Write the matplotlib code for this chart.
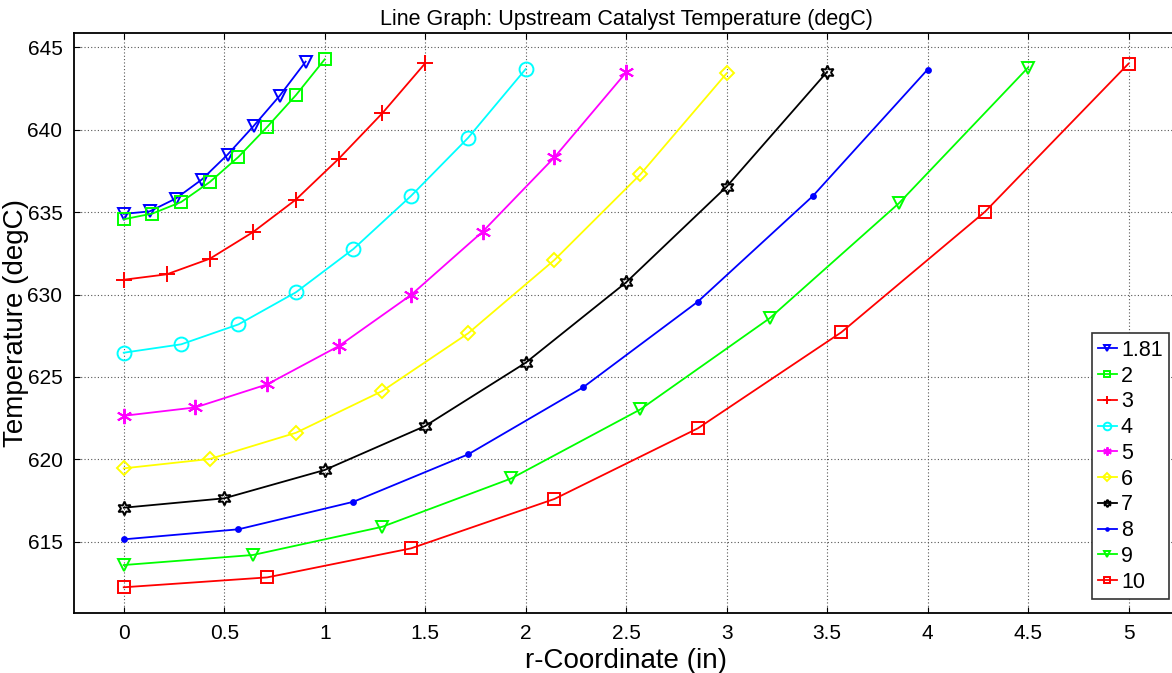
import matplotlib
matplotlib.use("Agg")
import matplotlib.pyplot as plt

plt.rcParams['font.family'] = ['Liberation Sans', 'DejaVu Sans']

# Series labels (parameter value of each sweep)
labels = ["1.81", "2", "3", "4", "5", "6", "7", "8", "9", "10"]

# r-coordinate samples (in) for each series
r_181 = [0, 0.129, 0.259, 0.388, 0.517, 0.646, 0.776, 0.905]
r_2 = [0, 0.143, 0.286, 0.429, 0.571, 0.714, 0.857, 1.0]
r_3 = [0, 0.214, 0.429, 0.643, 0.857, 1.071, 1.286, 1.5]
r_4 = [0, 0.286, 0.571, 0.857, 1.143, 1.429, 1.714, 2.0]
r_5 = [0, 0.357, 0.714, 1.071, 1.429, 1.786, 2.143, 2.5]
r_6 = [0, 0.429, 0.857, 1.286, 1.714, 2.143, 2.571, 3.0]
r_7 = [0, 0.5, 1.0, 1.5, 2.0, 2.5, 3.0, 3.5]
r_8 = [0, 0.571, 1.143, 1.714, 2.286, 2.857, 3.429, 4.0]
r_9 = [0, 0.643, 1.286, 1.929, 2.571, 3.214, 3.857, 4.5]
r_10 = [0, 0.714, 1.429, 2.143, 2.857, 3.571, 4.286, 5.0]

# Upstream catalyst temperature (degC)
t_181 = [634.90, 635.05, 635.83, 636.98, 638.50, 640.23, 642.07, 644.14]
t_2 = [634.57, 634.92, 635.62, 636.84, 638.36, 640.18, 642.11, 644.28]
t_3 = [630.90, 631.23, 632.18, 633.79, 635.77, 638.26, 641.00, 644.04]
t_4 = [626.47, 626.98, 628.19, 630.14, 632.77, 635.98, 639.52, 643.69]
t_5 = [622.64, 623.15, 624.55, 626.88, 629.97, 633.82, 638.33, 643.49]
t_6 = [619.45, 620.02, 621.61, 624.14, 627.65, 632.10, 637.30, 643.43]
t_7 = [617.06, 617.63, 619.35, 622.02, 625.86, 630.74, 636.55, 643.52]
t_8 = [615.14, 615.75, 617.42, 620.30, 624.37, 629.57, 635.98, 643.66]
t_9 = [613.58, 614.19, 615.90, 618.84, 623.03, 628.56, 635.54, 643.78]
t_10 = [612.23, 612.83, 614.59, 617.59, 621.88, 627.71, 635.03, 644.02]

x_ticks = [0, 0.5, 1, 1.5, 2, 2.5, 3, 3.5, 4, 4.5, 5]
x_tick_labels = ["0", "0.5", "1", "1.5", "2", "2.5", "3", "3.5", "4", "4.5", "5"]
y_ticks = [615, 620, 625, 630, 635, 640, 645]

r_series = [r_181, r_2, r_3, r_4, r_5, r_6, r_7, r_8, r_9, r_10]
t_series = [t_181, t_2, t_3, t_4, t_5, t_6, t_7, t_8, t_9, t_10]

colors = ["#0000ff", "#00ff00", "#ff0000", "#00ffff", "#ff00ff",
          "#ffff00", "#000000", "#0000ff", "#00ff00", "#ff0000"]
markers = ["v", "s", "+", "o", (6, 2, 0), "D", (6, 1, 0), ".", "v", "s"]
msizes = [8, 9, 11, 10, 11, 7, 10, 7, 8, 9]

fig = plt.figure(figsize=(11.72, 6.73), dpi=100)
ax = fig.add_axes([73.5 / 1172, 59.7 / 673, 1105.25 / 1172, 580.3 / 673])

for r, t, c, m, ms, lab in zip(r_series, t_series, colors, markers, msizes, labels):
    filled = m == "."
    ax.plot(r, t, color=c, lw=1.3, marker=m, markersize=ms,
            markerfacecolor=c if filled else "none", markeredgecolor=c,
            markeredgewidth=1.4, label=lab)

ax.set_xlim(-0.25, 5.25)
ax.set_ylim(610.65, 645.88)
ax.set_xticks(x_ticks)
ax.set_xticklabels(x_tick_labels)
ax.set_yticks(y_ticks)

ax.grid(True, linestyle=(0, (1, 2)), color="#555555", linewidth=0.8)
ax.tick_params(direction="in", length=4, width=0.8, labelsize=15,
               top=True, right=True, pad=8)
for s in ax.spines.values():
    s.set_linewidth(1.3)
    s.set_color("black")

ax.set_title("Line Graph: Upstream Catalyst Temperature (degC)", fontsize=15.5, pad=6)
ax.set_xlabel("r-Coordinate (in)", fontsize=20, labelpad=3)
ax.set_ylabel("Temperature (degC)", fontsize=20)
ax.yaxis.set_label_coords(-0.0405, 0.5)

leg = ax.legend(loc="lower right", bbox_to_anchor=(0.9912, 0.0246), fontsize=15.5,
                markerscale=0.55, handlelength=0.85, handletextpad=0.2,
                labelspacing=0.22, borderpad=0.3, borderaxespad=0,
                fancybox=False, framealpha=1, edgecolor="#333333")
leg.get_frame().set_linewidth(1.2)

fig.savefig("out.png", dpi=100)
